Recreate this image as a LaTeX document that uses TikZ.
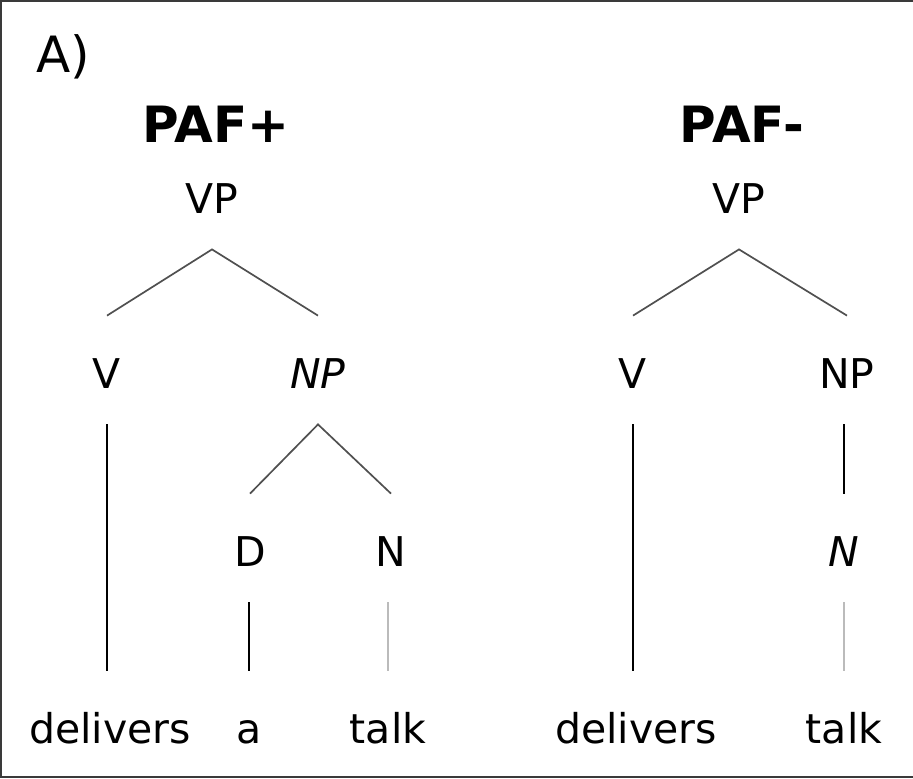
\documentclass[tikz,border=0pt]{standalone}
\usepackage{fontspec}
\setmainfont{DejaVu Sans}
\usepackage{tikz}
\definecolor{branchgray}{HTML}{505050}
\definecolor{palegray}{HTML}{BBBBBB}
\definecolor{framegray}{HTML}{3A3A3A}

\begin{document}
\begin{tikzpicture}[
    x=0.5pt, y=-0.5pt,
    cat/.style={anchor=base, inner xsep=0pt, inner ysep=18pt, text height=18pt, text depth=0pt, font=\fontsize{20.5}{24}\selectfont},
    title/.style={anchor=base, inner sep=0pt, font=\fontsize{25}{30}\selectfont},
    branch/.style={draw=branchgray, line width=0.85pt},
    stem/.style={draw=black, line width=0.8pt},
    weakstem/.style={draw=palegray, line width=0.85pt}
]
\useasboundingbox (0,0) rectangle (913,778);
\draw[framegray, line width=1pt] (913,1) -- (1,1) -- (1,777) -- (913,777);

\node[title] (panel) at (63,72) {A)};
\node[title, font=\fontsize{25}{30}\selectfont\bfseries] (pafplus) at (216,142) {PAF+};
\node[title, font=\fontsize{25}{30}\selectfont\bfseries] (pafminus) at (742,142) {PAF-};

\node[cat] (vpL) at (212,213) {VP};
\node[cat] (vL) at (107,388) {V};
\node[cat, font=\fontsize{20.5}{24}\selectfont\itshape] (npL) at (318,388) {NP};
\node[cat] (dL) at (250,566) {D};
\node[cat] (nL) at (391,566) {N};
\node[cat] (deliversL) at (110,743) {delivers};
\node[cat] (aL) at (249,743) {a};
\node[cat] (talkL) at (388,743) {talk};

\node[cat] (vpR) at (739,213) {VP};
\node[cat] (vR) at (633,388) {V};
\node[cat] (npR) at (847,388) {NP};
\node[cat, font=\fontsize{20.5}{24}\selectfont\itshape] (nR) at (844,566) {N};
\node[cat] (deliversR) at (636,743) {delivers};
\node[cat] (talkR) at (844,743) {talk};

\draw[branch] (vL.north) -- (vpL.south) -- (npL.north);
\draw[branch] (dL.north) -- (npL.south) -- (nL.north);
\draw[stem] (vL.south) -- (vL.south |- deliversL.north);
\draw[stem] (aL.north |- dL.south) -- (aL.north);
\draw[weakstem] (talkL.north |- nL.south) -- (talkL.north);

\draw[branch] (vR.north) -- (vpR.south) -- (npR.north);
\draw[stem] (vR.south) -- (vR.south |- deliversR.north);
\draw[stem] (nR.north |- npR.south) -- (nR.north);
\draw[weakstem] (nR.south) -- (nR.south |- talkR.north);
\end{tikzpicture}
\end{document}
